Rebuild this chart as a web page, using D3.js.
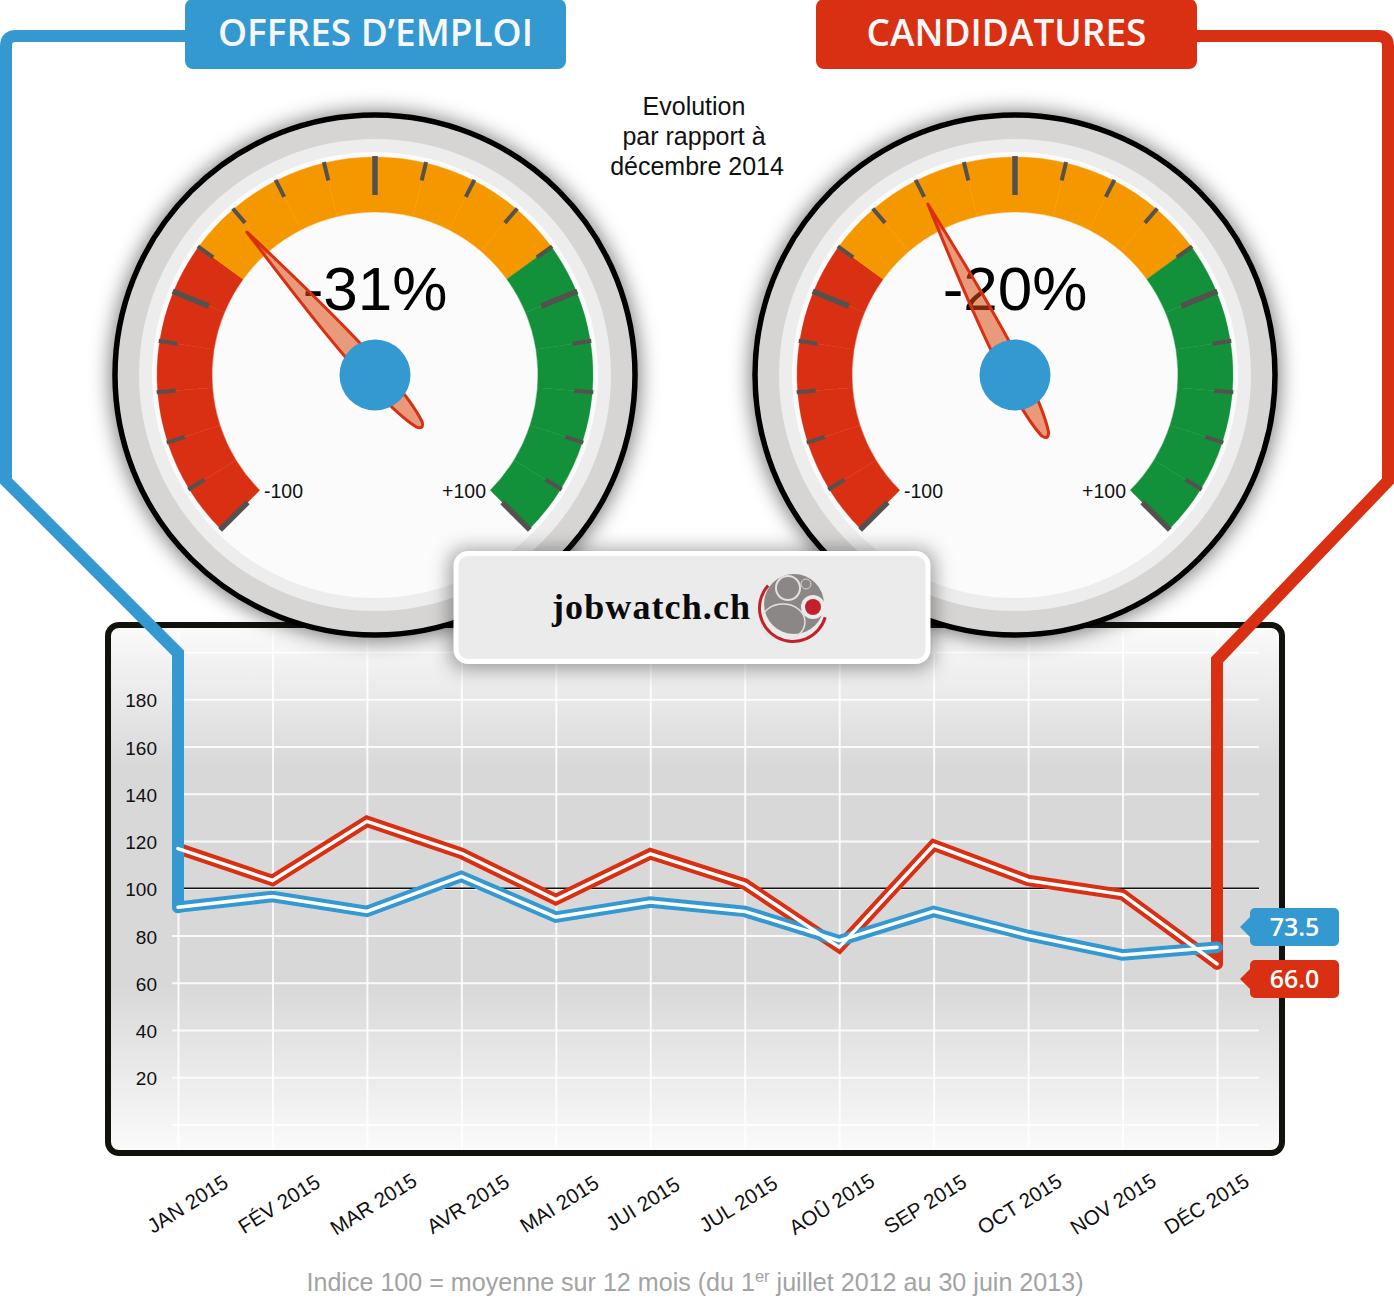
<!DOCTYPE html>
<html>
<head>
<meta charset="utf-8">
<script src="https://cdn.jsdelivr.net/npm/d3@7"></script>
<style>
    html, body { margin: 0; padding: 0; background: #fff; }
    svg { display: block; font-family: "Liberation Sans", Arial, sans-serif; }
    .domain { display: none; }
</style>
</head>
<body>
<svg id="graph" width="1394" height="1299"></svg>
<script>
// Data
var months = ["JAN 2015", "FÉV 2015", "MAR 2015", "AVR 2015", "MAI 2015", "JUI 2015",
    "JUL 2015", "AOÛ 2015", "SEP 2015", "OCT 2015", "NOV 2015", "DÉC 2015"];
var candidatures = [116.8, 103.3, 128.3, 114.8, 95.2, 114.6, 101.8, 75, 118.3, 103.3, 97.3, 68];
var offres = [92, 96.5, 90.2, 105, 87.8, 94.2, 90.2, 77.8, 90.2, 80, 71.8, 75];
var yTicks = [20, 40, 60, 80, 100, 120, 140, 160, 180];
var yGrid = [0, 20, 40, 60, 80, 100, 120, 140, 160, 180, 200];
var lastLabels = ["73.5", "66.0"];
var gaugeValues = [-31, -20];
var gaugeTexts = ["-31%", "-20%"];
var gaugeTicks = [-100, -90, -80, -70, -60, -50, -40, -30, -20, -10, 0, 10, 20, 30, 40, 50, 60, 70, 80, 90, 100];
var gaugeMajor = [-100, -50, 0, 50, 100];
var gaugeEnds = ["-100", "+100"];

var BLUE = "#3399d0", RED = "#d93013", ORANGE = "#f59800", GREEN = "#13903a";

function zoneColor(v) {
    return v < -40 ? RED : (v < 40 ? ORANGE : GREEN);
}

var svg = d3.select("svg#graph");
var defs = svg.append("defs");

var shadow = defs.append("filter").attr("id", "shadow")
    .attr("x", "-20%").attr("y", "-20%").attr("width", "140%").attr("height", "140%");
shadow.append("feGaussianBlur").attr("stdDeviation", 10);

var panelGrad = defs.append("linearGradient").attr("id", "panelGrad")
    .attr("x1", 0).attr("x2", 0).attr("y1", 0).attr("y2", 1);
panelGrad.append("stop").attr("offset", "0").attr("stop-color", "#fbfbfb");
panelGrad.append("stop").attr("offset", "0.27").attr("stop-color", "#d8d8d8");
panelGrad.append("stop").attr("offset", "0.68").attr("stop-color", "#d8d8d8");
panelGrad.append("stop").attr("offset", "1").attr("stop-color", "#fbfbfb");

// Scales
var x = d3.scalePoint().domain(months).range([178, 1217]);
var y = d3.scaleLinear().domain([0, 200]).range([1124.5, 652]);
var dial = d3.scaleLinear().domain([-100, 100]).range([-135, 135]);

// Chart panel
svg.append("rect")
    .attr("x", 108).attr("y", 625).attr("width", 1174).attr("height", 528)
    .attr("rx", 11)
    .attr("fill", "url(#panelGrad)")
    .attr("stroke", "#12120c")
    .attr("stroke-width", 6);

// Grid
var gridX = d3.axisBottom(x).tickSize(519).tickFormat("");
svg.append("g").attr("class", "grid")
    .attr("transform", "translate(0,630)")
    .call(gridX)
    .selectAll("line").attr("stroke", "#fff").attr("stroke-width", 2).attr("stroke-opacity", 0.85);

var gridY = d3.axisLeft(y).tickValues(yGrid).tickSize(1087).tickFormat("");
svg.append("g").attr("class", "grid")
    .attr("transform", "translate(1259,0)")
    .call(gridY)
    .selectAll("line").attr("stroke", "#fff").attr("stroke-width", 2).attr("stroke-opacity", 0.85);

svg.append("line")
    .attr("x1", x(months[0])).attr("x2", 1259)
    .attr("y1", y(100)).attr("y2", y(100))
    .attr("stroke", "#111").attr("stroke-width", 1.5);

// Axes
var yAxis = d3.axisLeft(y).tickValues(yTicks).tickSize(0).tickPadding(0);
var yG = svg.append("g").attr("transform", "translate(157,1.5)").call(yAxis);
yG.selectAll("text").attr("font-size", 19).attr("font-family", "Liberation Sans").attr("fill", "#111");

// the month labels do not sit exactly under their grid lines
var labelShift = [9, 6, 6, 6, 3, -8, -7, -8, -9, -9, -10, -11];
var xAxis = d3.axisBottom(x).tickSize(0);
var xG = svg.append("g").attr("transform", "translate(0,1204)").call(xAxis);
xG.selectAll("text")
    .attr("x", 0).attr("y", 0).attr("dy", ".35em")
    .attr("transform", function (d, i) { return "translate(" + labelShift[i] + ",0) rotate(-32)"; })
    .attr("text-anchor", "middle")
    .attr("font-size", 20.6).attr("font-family", "Liberation Sans").attr("fill", "#111");

// Gauges
var arc = d3.arc().innerRadius(163).outerRadius(218);
var rad = Math.PI / 180;

function drawGauge(cx, cy, value, label) {
    var g = svg.append("g").attr("transform", "translate(" + cx + "," + cy + ")");

    g.append("circle").attr("r", 265).attr("cy", 1).attr("fill", "#000").attr("fill-opacity", 0.5)
        .attr("filter", "url(#shadow)");
    g.append("circle").attr("r", 260).attr("fill", "#d6d5d3").attr("stroke", "#000").attr("stroke-width", 5.5);
    g.append("circle").attr("r", 236).attr("fill", "#ededed");
    g.append("circle").attr("r", 223).attr("fill", "#fbfbfb");

    // one cell per 10 units, coloured by zone
    g.selectAll("path.cell").data(gaugeTicks.slice(0, -1)).enter().append("path")
        .attr("class", "cell")
        .attr("d", function (d) {
            return arc({startAngle: dial(d) * rad, endAngle: dial(d + 10) * rad});
        })
        .attr("fill", zoneColor)
        .attr("stroke", zoneColor)
        .attr("stroke-width", 0.4);

    g.selectAll("line.tick").data(gaugeTicks).enter().append("line")
        .attr("class", "tick")
        .attr("transform", function (d) { return "rotate(" + dial(d) + ")"; })
        .attr("y1", -219)
        .attr("y2", function (d) { return gaugeMajor.indexOf(d) >= 0 ? -180 : -200; })
        .attr("stroke", "#55514e")
        .attr("stroke-width", function (d) { return gaugeMajor.indexOf(d) >= 0 ? 5.5 : 4; });

    g.append("text").attr("y", 123).attr("x", -111)
        .attr("font-size", 19.5).attr("fill", "#111").text(gaugeEnds[0]);
    g.append("text").attr("y", 123).attr("x", 111).attr("text-anchor", "end")
        .attr("font-size", 19.5).attr("fill", "#111").text(gaugeEnds[1]);

    g.append("text").attr("y", -65).attr("text-anchor", "middle")
        .attr("font-size", 62).attr("fill", "#000").text(label);

    g.append("path")
        .attr("transform", "rotate(" + dial(value) + ")")
        .attr("d", "M0,-192 Q12,-50 10,0 Q10,44 4,66 Q0,74 -4,66 Q-10,44 -10,0 Q-12,-50 0,-192 Z")
        .attr("fill", "rgba(216,74,16,0.55)")
        .attr("stroke", RED).attr("stroke-width", 3).attr("stroke-linejoin", "round");

    g.append("circle").attr("r", 35.5).attr("fill", BLUE);
}

gaugeValues.forEach(function (v, i) {
    drawGauge(i === 0 ? 375 : 1015, 375, v, gaugeTexts[i]);
});

// Series and the connectors down from the badges
var line = d3.line()
    .x(function (d, i) { return x(months[i]); })
    .y(function (d) { return y(d); });

function serie(values, color, width) {
    svg.append("path")
        .attr("d", line(values))
        .attr("fill", "none")
        .attr("stroke", color)
        .attr("stroke-width", width)
        .attr("stroke-linecap", "round")
        .attr("stroke-linejoin", "miter");
}

serie(candidatures, RED, 11.5);

function connector(d, color) {
    svg.append("path")
        .attr("d", d)
        .attr("fill", "none")
        .attr("stroke", color)
        .attr("stroke-width", 12)
        .attr("stroke-linecap", "round")
        .attr("stroke-linejoin", "miter");
}

var xFirst = x(months[0]), xLast = x(months[months.length - 1]);
connector("M190,36 H16 Q6,36 6,46 V481 L" + xFirst + ",653 V" + y(offres[0]), BLUE);
connector("M1190,36 H1378 Q1388,36 1388,46 V481 L" + xLast + ",660 V" + y(candidatures[candidatures.length - 1]), RED);

serie(offres, BLUE, 11.5);
serie(candidatures, "#fff", 3.5);
serie(offres, "#fff", 3.5);

// Badges at the top
function badge(bx, w, color, label) {
    svg.append("rect")
        .attr("x", bx).attr("y", -1).attr("width", w).attr("height", 70)
        .attr("rx", 8).attr("fill", color);
    svg.append("text")
        .attr("x", bx + w / 2).attr("y", 46)
        .attr("text-anchor", "middle")
        .attr("font-family", "Open Sans").attr("font-weight", 600)
        .attr("font-size", 37).attr("fill", "#f7f7f7")
        .text(label);
}
badge(185, 381, BLUE, "OFFRES D’EMPLOI");
badge(816, 381, RED, "CANDIDATURES");

// Middle caption
["Evolution", "par rapport à", "décembre 2014"].forEach(function (t, i) {
    svg.append("text")
        .attr("x", i === 2 ? 697 : 694).attr("y", 115 + i * 30)
        .attr("text-anchor", "middle")
        .attr("font-size", 25).attr("fill", "#111")
        .text(t);
});

// Value tags at the end of the lines
function tag(ty, color, label) {
    var g = svg.append("g").attr("transform", "translate(1250," + ty + ")");
    g.append("path").attr("d", "M0,9 L-10,19 L0,29 Z").attr("fill", color);
    g.append("rect").attr("width", 89).attr("height", 38).attr("rx", 5).attr("fill", color);
    g.append("text").attr("x", 44.5).attr("y", 28)
        .attr("text-anchor", "middle")
        .attr("font-family", "Open Sans").attr("font-weight", 600)
        .attr("font-size", 25).attr("fill", "#fff")
        .text(label);
}
tag(908, BLUE, lastLabels[0]);
tag(960, RED, lastLabels[1]);

// Logo box
var logo = svg.append("g");
logo.append("rect")
    .attr("x", 450).attr("y", 550).attr("width", 484).attr("height", 118)
    .attr("rx", 14).attr("fill", "#000").attr("fill-opacity", 0.4)
    .attr("filter", "url(#shadow)");
logo.append("rect")
    .attr("x", 456).attr("y", 553.5).attr("width", 472).attr("height", 108)
    .attr("rx", 12).attr("fill", "#ebebeb")
    .attr("stroke", "#fff").attr("stroke-width", 5);
logo.append("text")
    .attr("x", 552).attr("y", 619)
    .attr("font-family", "Liberation Serif").attr("font-weight", 700)
    .attr("font-size", 36).attr("letter-spacing", 1.1).attr("fill", "#0a0a0a")
    .text("jobwatch.ch");

logo.append("circle").attr("cx", 794).attr("cy", 604).attr("r", 30).attr("fill", "#8b8786");
logo.append("circle").attr("cx", 788).attr("cy", 588).attr("r", 12).attr("fill", "none").attr("stroke", "#e4e2e0").attr("stroke-width", 2);
logo.append("circle").attr("cx", 806).attr("cy", 584).attr("r", 5).attr("fill", "none").attr("stroke", "#d8d6d4").attr("stroke-width", 1);
logo.append("ellipse").attr("cx", 783).attr("cy", 622).attr("rx", 22).attr("ry", 18).attr("fill", "none").attr("stroke", "#e4e2e0").attr("stroke-width", 1.5);
logo.append("circle").attr("cx", 813).attr("cy", 607).attr("r", 12).attr("fill", "#ebebeb");
logo.append("circle").attr("cx", 813).attr("cy", 607).attr("r", 8).attr("fill", "#c4202b");
logo.append("path")
    .attr("d", d3.arc().innerRadius(32).outerRadius(35).startAngle(106 * rad).endAngle(312 * rad)())
    .attr("transform", "translate(793,608)")
    .attr("fill", "#c4202b");

// Footnote
var note = svg.append("text")
    .attr("x", 695).attr("y", 1291)
    .attr("text-anchor", "middle")
    .attr("font-size", 25.1).attr("fill", "#a3a3a3");
note.append("tspan").text("Indice 100 = moyenne sur 12 mois (du 1");
note.append("tspan").attr("font-size", 16.5).attr("dy", -9).text("er");
note.append("tspan").attr("dy", 9).text(" juillet 2012 au 30 juin 2013)");
</script>
</body>
</html>
